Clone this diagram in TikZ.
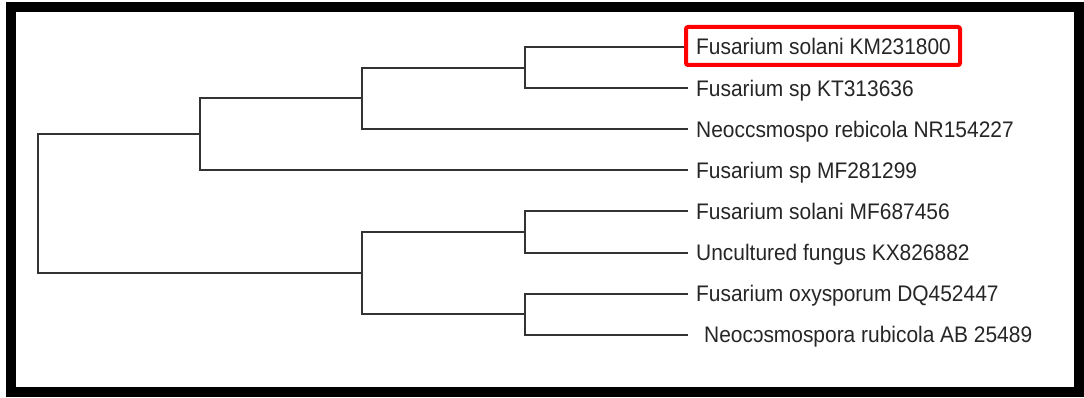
\documentclass[tikz,border=0pt]{standalone}
\usepackage{fontspec}
\setmainfont{Liberation Sans}[FakeStretch=0.93]
\begin{document}
\begin{tikzpicture}[x=1pt,y=-1pt,
  branch/.style={draw=black!80,line width=2pt},
  leaf/.style={anchor=west,inner xsep=8pt,inner ysep=0pt,text height=16pt,text depth=0pt,
    text=black!85,font=\fontsize{22.5pt}{24pt}\selectfont},
  frame/.style={draw=black,line width=10pt},
  hl/.style={draw=red,line width=4pt,rounded corners=2pt}]
\useasboundingbox (0,0) rectangle (1084,398);
\fill[white] (0,0) rectangle (1084,398);

% taxa
\node[leaf] (l1) at (688,47)    {Fusarium solani KM231800};
\node[leaf] (l2) at (688,88.1)  {Fusarium sp KT313636};
\node[leaf] (l3) at (688,129.2) {Neoccsmospo rebicola NR154227};
\node[leaf] (l4) at (688,170.3) {Fusarium sp MF281299};
\node[leaf] (l5) at (688,211.4) {Fusarium solani MF687456};
\node[leaf] (l6) at (688,252.5) {Uncultured fungus KX826882};
\node[leaf] (l7) at (688,293.6) {Fusarium oxysporum DQ452447};
\node[leaf] (l8) at (688,334.7) {\hspace*{8pt}Neocɔsmospora rubicola AB 25489};

% internal nodes
\coordinate (a1) at (525,67.55);
\coordinate (a2) at (362,98.4);
\coordinate (a3) at (200,134.35);
\coordinate (b1) at (525,231.95);
\coordinate (b2) at (525,314.15);
\coordinate (b3) at (362,273.05);
\coordinate (root) at (38,203.7);

% branches
\draw[branch] (l1.west) -| (a1) |- (l2.west);
\draw[branch] (a1) -| (a2) |- (l3.west);
\draw[branch] (a2) -| (a3) |- (l4.west);
\draw[branch] (l5.west) -| (b1) |- (l6.west);
\draw[branch] (l7.west) -| (b2) |- (l8.west);
\draw[branch] (b1) -| (b3) |- (b2);
\draw[branch] (a3) -| (root) |- (b3);

% highlight box
\draw[hl] (686,27) rectangle (960,65);

% outer frame
\draw[frame] (11,7) rectangle (1079,391.5);
\end{tikzpicture}
\end{document}
